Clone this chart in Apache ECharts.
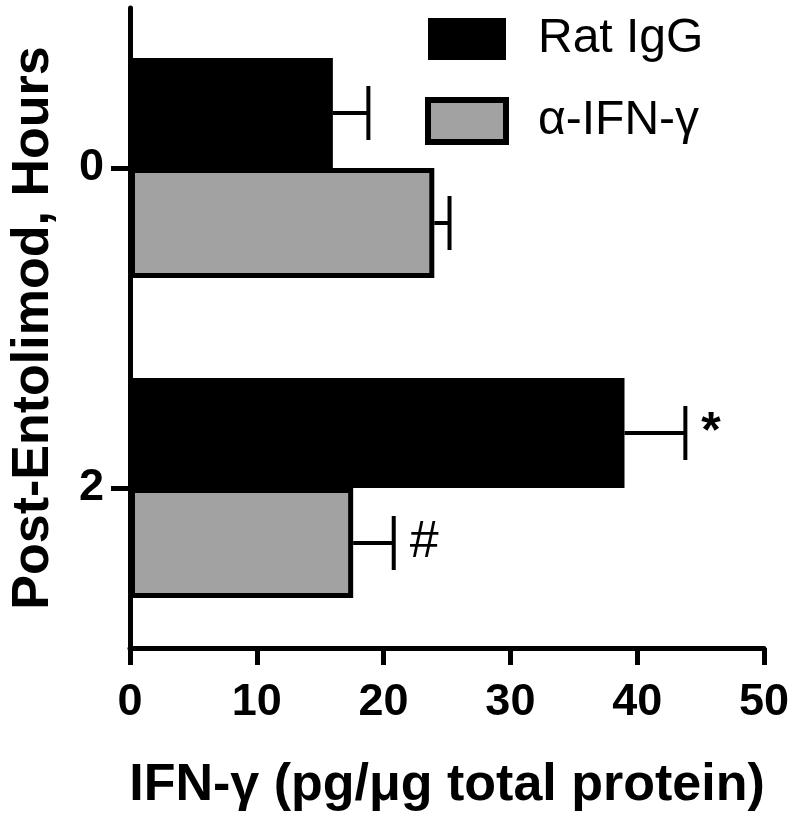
<!DOCTYPE html>
<html>
<head>
<meta charset="utf-8">
<script src="https://cdn.jsdelivr.net/npm/echarts@6/dist/echarts.min.js"></script>
<style>
  body { margin: 0; background: #fff; }
  #chart { width: 792px; height: 820px; }
</style>
</head>
<body>
<div id="chart"></div>
<script>
var categories = ['0', '2']
var seriesNames = ['Rat IgG', 'α-IFN-γ']
var ratIgG = [16.0, 39.0]
var ratIgGErr = [2.8, 4.8]
var antiIfng = [24.0, 17.6]
var antiIfngErr = [1.2, 3.2]
var ratMarks = ['', '*']
var antiMarks = ['', '#']
var xTicks = [0, 10, 20, 30, 40, 50]

var font = '"Liberation Sans", Arial, sans-serif'
var barW = 110

function errData (means, errs, marks) {
  return means.map(function (m, i) {
    return [i, m, errs[i], marks[i]]
  })
}

// error bar + significance mark, shifted onto its own bar inside the band
function errRender (offset, marks, markFont) {
  return function (params, api) {
    var cat = api.value(0)
    var mean = api.value(1)
    var err = api.value(2)
    var mark = marks[params.dataIndex]
    var p0 = api.coord([mean, cat])
    var p1 = api.coord([mean + err, cat])
    var y = p0[1] + offset
    var style = { stroke: '#000', lineWidth: 4 }
    var children = [
      { type: 'line', shape: { x1: p0[0], y1: y, x2: p1[0], y2: y }, style: style },
      { type: 'line', shape: { x1: p1[0], y1: y - 27, x2: p1[0], y2: y + 27 }, style: style }
    ]
    if (mark) {
      children.push({
        type: 'text',
        style: {
          text: mark, x: p1[0] + 16, y: y, font: markFont,
          fill: '#000', verticalAlign: 'middle', align: 'left'
        }
      })
    }
    return { type: 'group', children: children }
  }
}

var myChart = echarts.init(document.getElementById('chart'))
var option = {
  animation: false,
  backgroundColor: '#fff',
  grid: { left: 127, right: 27, top: 8, bottom: 172 },
  legend: {
    orient: 'vertical',
    left: 425,
    top: 15,
    padding: 0,
    itemWidth: 78,
    itemHeight: 42,
    itemGap: 34,
    selectedMode: false,
    icon: 'rect',
    textStyle: { fontSize: 48, fontFamily: font, color: '#000', padding: [0, 0, 0, 27] },
    data: [
      { name: seriesNames[0], itemStyle: { color: '#000', borderWidth: 0 } },
      { name: seriesNames[1], itemStyle: { color: '#a2a2a2', borderColor: '#000', borderWidth: 6 } }
    ]
  },
  xAxis: {
    type: 'value',
    min: xTicks[0],
    max: xTicks[xTicks.length - 1],
    interval: 10,
    name: 'IFN-γ (pg/μg total protein)',
    nameLocation: 'middle',
    nameGap: 112,
    nameTextStyle: { fontSize: 52, fontWeight: 'bold', fontFamily: font, color: '#000' },
    splitLine: { show: false },
    axisLine: { show: true, lineStyle: { color: '#000', width: 5 } },
    axisTick: { show: true, length: 17, lineStyle: { color: '#000', width: 5 } },
    axisLabel: { fontSize: 45, fontWeight: 'bold', fontFamily: font, color: '#000', margin: 32 }
  },
  yAxis: {
    type: 'category',
    inverse: true,
    data: categories,
    name: 'Post-Entolimod, Hours',
    nameLocation: 'middle',
    nameGap: 70,
    nameTextStyle: { fontSize: 52, fontWeight: 'bold', fontFamily: font, color: '#000' },
    axisLine: { show: true, lineStyle: { color: '#000', width: 5 } },
    axisTick: { show: true, alignWithLabel: true, length: 19, lineStyle: { color: '#000', width: 5 } },
    axisLabel: { fontSize: 45, fontWeight: 'bold', fontFamily: font, color: '#000', margin: 26 }
  },
  series: [
    {
      name: seriesNames[0],
      type: 'bar',
      barWidth: barW,
      barGap: '0%',
      itemStyle: { color: '#000', borderColor: '#000', borderWidth: 0 },
      data: ratIgG
    },
    {
      name: seriesNames[1],
      type: 'bar',
      barWidth: barW,
      barGap: '0%',
      itemStyle: { color: '#a2a2a2', borderColor: '#000', borderWidth: 5 },
      data: antiIfng
    },
    {
      name: 'errRat',
      type: 'custom',
      z: 5,
      renderItem: errRender(-barW / 2, ratMarks, 'bold 50px ' + font),
      encode: { x: 1, y: 0 },
      data: errData(ratIgG, ratIgGErr, ratMarks)
    },
    {
      name: 'errAnti',
      type: 'custom',
      z: 5,
      renderItem: errRender(barW / 2, antiMarks, '52px ' + font),
      encode: { x: 1, y: 0 },
      data: errData(antiIfng, antiIfngErr, antiMarks)
    }
  ]
}
myChart.setOption(option)
</script>
</body>
</html>
